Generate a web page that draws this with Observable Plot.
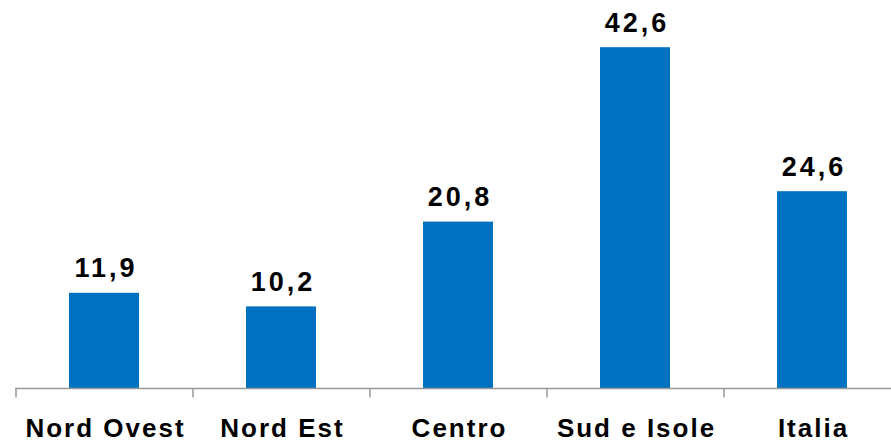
<!DOCTYPE html>
<html>
<head>
<meta charset="utf-8">
<script src="https://cdn.jsdelivr.net/npm/d3@7"></script>
<script src="https://cdn.jsdelivr.net/npm/@observablehq/plot@0.6"></script>
<style>
  html, body { margin: 0; padding: 0; background: #ffffff; }
  #chart svg { display: block; }
</style>
</head>
<body>
<div id="chart"></div>
<script>
const categories = ["Nord Ovest", "Nord Est", "Centro", "Sud e Isole", "Italia"];
const values = [11.9, 10.2, 20.8, 42.6, 24.6];
const valueLabels = ["11,9", "10,2", "20,8", "42,6", "24,6"];

const data = categories.map((c, i) => ({cat: c, value: values[i], label: valueLabels[i]}));

const font = "'Liberation Sans', Arial, sans-serif";

const chart = Plot.plot({
  width: 891,
  height: 444,
  marginLeft: 15,
  marginRight: 0,
  marginTop: 4,
  marginBottom: 56,
  style: {background: "#ffffff", fontFamily: font},
  x: {domain: categories, range: [15, 900], paddingInner: 0.605, paddingOuter: 0.3025, axis: null},
  y: {domain: [0, 48], axis: null},
  marks: [
    Plot.barY(data, {x: "cat", y: "value", fill: "#0070C0"}),
    Plot.ruleY([0], {stroke: "#999999", strokeWidth: 1.5}),
    Plot.ruleX(data, {x: "cat", y1: 0, y2: -1.2, dx: -88.5, stroke: "#999999", strokeWidth: 1.5}),
    Plot.text(data, {x: "cat", y: "value", text: "label", lineAnchor: "bottom", dy: -16, dx: 1.5,
      fontSize: 27, fontWeight: "bold", fill: "#000000"}),
    Plot.text(data, {x: "cat", y: 0, text: "cat", lineAnchor: "top", dy: 30, dx: 1,
      fontSize: 26, fontWeight: "bold", fill: "#000000"})
  ]
});
chart.querySelectorAll("text").forEach(t => {
  if (categories.includes(t.textContent)) t.style.letterSpacing = "2px";
  if (valueLabels.includes(t.textContent)) t.style.letterSpacing = "3px";
});
document.getElementById("chart").appendChild(chart);
</script>
</body>
</html>
